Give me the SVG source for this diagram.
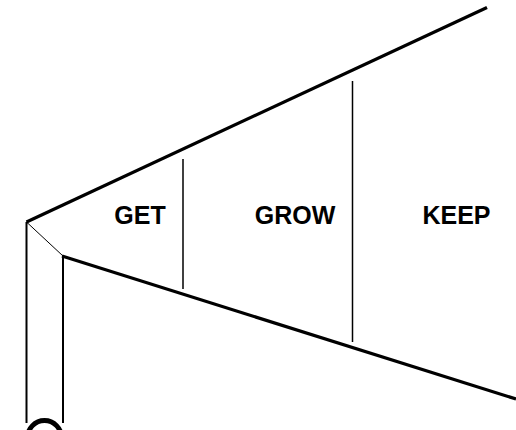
<svg xmlns="http://www.w3.org/2000/svg" width="516" height="430" viewBox="0 0 516 430">
<style>
.edge{stroke:#000;fill:none;stroke-linecap:butt}
.thick{stroke-width:3.2}
.mid{stroke-width:2}
.thin{stroke-width:1.5}
.hair{stroke-width:1}
.lbl{font-family:"Liberation Sans",Arial,sans-serif;font-weight:bold;font-size:25px;fill:#000;text-anchor:middle}
</style>
<rect width="516" height="430" fill="#fff"/>
<g id="connectors">
<line class="edge thick" x1="26.5" y1="222" x2="487" y2="7.5"/>
<line class="edge thick" x1="62" y1="256" x2="516" y2="399"/>
<line class="edge hair" x1="26.5" y1="222" x2="63" y2="256"/>
<line class="edge mid" x1="26.5" y1="222" x2="26.5" y2="423"/>
<line class="edge mid" x1="63" y1="255" x2="63" y2="423"/>
<line class="edge thin" x1="183" y1="159" x2="183" y2="289"/>
<line class="edge thin" x1="352.5" y1="81" x2="352.5" y2="342"/>
<ellipse class="edge" stroke-width="5" cx="44.5" cy="438" rx="17" ry="17.5"/>
</g>
<g id="get"><text class="lbl" x="140" y="224">GET</text></g>
<g id="grow"><text class="lbl" x="295" y="224">GROW</text></g>
<g id="keep"><text class="lbl" x="456.5" y="224">KEEP</text></g>
</svg>
